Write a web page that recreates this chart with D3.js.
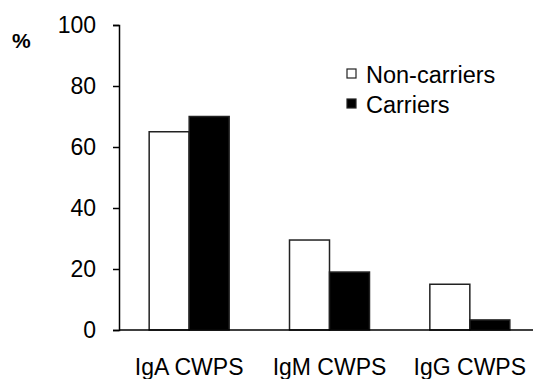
<!DOCTYPE html>
<html><head><meta charset="utf-8">
<script src="https://cdn.jsdelivr.net/npm/d3@7"></script>
<style>body{margin:0;background:#fff}svg{display:block}text{font-family:Arial,"Liberation Sans",sans-serif;fill:#000}</style>
</head><body><svg id="c" width="533" height="379"></svg>
<script>
const categories = ["IgA CWPS", "IgM CWPS", "IgG CWPS"];
const seriesNames = ["Non-carriers", "Carriers"];
const nonCarriers = [65, 29.5, 15];
const carriers = [70, 19, 3.3];
const yTicks = [0, 20, 40, 60, 80, 100];

const svg = d3.select("#c");
const x0 = 119, x1 = 540, yTop = 25, yBot = 330;
const x = d3.scaleBand().domain(categories).range([x0, x1]).paddingInner(0.43).paddingOuter(0.215);
const xs = d3.scaleBand().domain(seriesNames).range([0, x.bandwidth()]);
const y = d3.scaleLinear().domain([0, 100]).range([yBot, yTop]);
const fills = {"Non-carriers": "#fff", "Carriers": "#000"};
const vals = {"Non-carriers": nonCarriers, "Carriers": carriers};

// bars
seriesNames.forEach(s => {
  svg.append("g").selectAll("rect").data(categories).join("rect")
    .attr("x", c => x(c) + xs(s))
    .attr("y", (c, i) => y(vals[s][i]))
    .attr("width", xs.bandwidth())
    .attr("height", (c, i) => yBot - y(vals[s][i]))
    .attr("fill", fills[s]).attr("stroke", "#222").attr("stroke-width", 1.5);
});

// y axis
const ya = svg.append("g").attr("transform", `translate(${x0},0)`)
  .call(d3.axisLeft(y).tickValues(yTicks).tickSize(6).tickPadding(17).tickFormat(d3.format("d")));
ya.select(".domain").attr("stroke", "#000").attr("stroke-width", 1.5);
ya.selectAll(".tick line").attr("stroke", "#000").attr("stroke-width", 1.5);
ya.selectAll("text").attr("font-size", 23).attr("font-family", "Arial, 'Liberation Sans', sans-serif").attr("fill", "#000");

// x axis line
svg.append("line").attr("x1", x0).attr("x2", 533).attr("y1", yBot).attr("y2", yBot)
  .attr("stroke", "#000").attr("stroke-width", 1.5);
svg.append("g").selectAll("text").data(categories).join("text")
  .attr("x", c => x(c) + x.bandwidth() / 2).attr("y", 375)
  .attr("text-anchor", "middle").attr("font-size", 23).text(c => c);

// % label
svg.append("text").attr("x", 12).attr("y", 48).attr("font-size", 21).attr("font-weight", "bold").text("%");

// legend
const lg = svg.append("g");
seriesNames.forEach((s, i) => {
  lg.append("rect").attr("x", 347).attr("y", 69 + i * 30).attr("width", 9).attr("height", 9)
    .attr("fill", fills[s]).attr("stroke", "#222").attr("stroke-width", 1.2);
  lg.append("text").attr("x", 366).attr("y", 83 + i * 30).attr("font-size", 23.5).text(s);
});
</script></body></html>
